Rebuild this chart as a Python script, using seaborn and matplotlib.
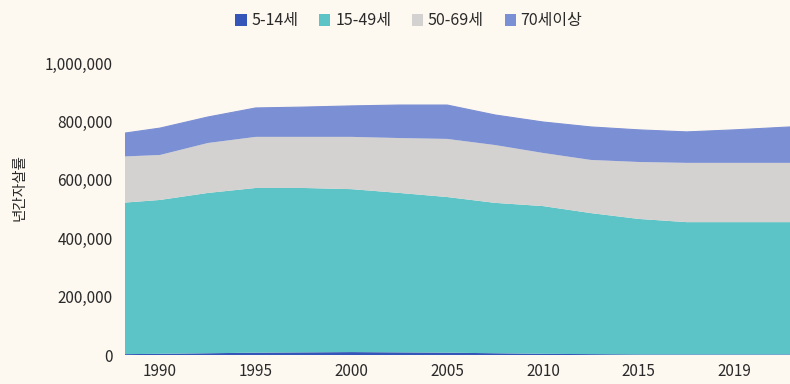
import numpy as np
import pandas as pd
import seaborn as sns
import matplotlib
matplotlib.use("Agg")
import matplotlib.pyplot as plt
from matplotlib.patches import Patch

# ---- data (values in persons) ----
tick_labels = ["1990", "1995", "2000", "2005", "2010", "2015", "2019"]
# sample points along the period axis (tick i == tick_labels[i])
period = [-0.365, 0, 0.5, 1, 1.5, 2, 2.5, 3, 3.5, 4, 4.5, 5, 5.5, 6, 6.58]
age_5_14 = [3, 4, 6, 8, 9, 10, 9, 8, 6, 4, 3, 2, 2, 2, 2]
age_15_49 = [519, 527, 549, 564, 563, 558, 546, 533, 515, 506, 483, 464, 453, 453, 453]
age_50_69 = [158, 154, 171, 175, 175, 179, 188, 199, 198, 182, 182, 195, 203, 203, 203]
age_70_plus = [80, 92, 89, 99, 102, 106, 113, 116, 103, 106, 113, 110, 106, 113, 123]
series_names = ["5-14세", "15-49세", "50-69세", "70세이상"]
y_ticks = [0, 200000, 400000, 600000, 800000, 1000000]

colors = ["#3556b8", "#5cc3c6", "#d3d2d0", "#7b8fd4"]
bg = "#fdf8f0"
txt = "#2a2a2a"

df = pd.DataFrame({
    "period": period,
    series_names[0]: np.array(age_5_14) * 1000,
    series_names[1]: np.array(age_15_49) * 1000,
    series_names[2]: np.array(age_50_69) * 1000,
    series_names[3]: np.array(age_70_plus) * 1000,
})

sns.set_theme(style="white")
plt.rcParams["font.family"] = ["Noto Sans CJK KR", "DejaVu Sans"]
plt.rcParams["font.weight"] = "medium"

fig = plt.figure(figsize=(7.9, 3.84), dpi=100, facecolor=bg)
ax = fig.add_axes([125 / 790, 1 - 355 / 384, 665 / 790, (355 - 63) / 384])
ax.set_facecolor(bg)

ax.stackplot(df["period"], [df[n] for n in series_names], colors=colors,
             linewidth=0, edgecolor="none")
cum = df[series_names].cumsum(axis=1)
sns.lineplot(x=df["period"], y=cum[series_names[-1]], ax=ax, color=colors[3],
             linewidth=0.8)

ax.set_xlim(period[0], period[-1])
ax.set_ylim(0, 1000000)
ax.set_xticks(range(len(tick_labels)))
ax.set_xticklabels(tick_labels)
ax.set_yticks(y_ticks)
ax.set_yticklabels([f"{v:,}" for v in y_ticks])
ax.tick_params(axis="both", length=0, labelsize=11, labelcolor=txt)
ax.tick_params(axis="x", pad=6)
ax.tick_params(axis="y", pad=9)
for s in ax.spines.values():
    s.set_visible(False)
ax.set_xlabel("")
ax.set_ylabel("년간자살률", fontsize=10.5, color=txt)
ax.yaxis.set_label_coords(-0.148, 0.575)

handles = [Patch(facecolor=c, edgecolor="none") for c in colors]
fig.legend(handles, series_names, loc="center", bbox_to_anchor=(409 / 790, 1 - 21 / 384),
           ncol=4, frameon=False, fontsize=11.5, handlelength=0.7, handleheight=0.7,
           handletextpad=0.3, columnspacing=1.3, labelcolor=txt)

fig.savefig("out.png", dpi=100, facecolor=bg)
